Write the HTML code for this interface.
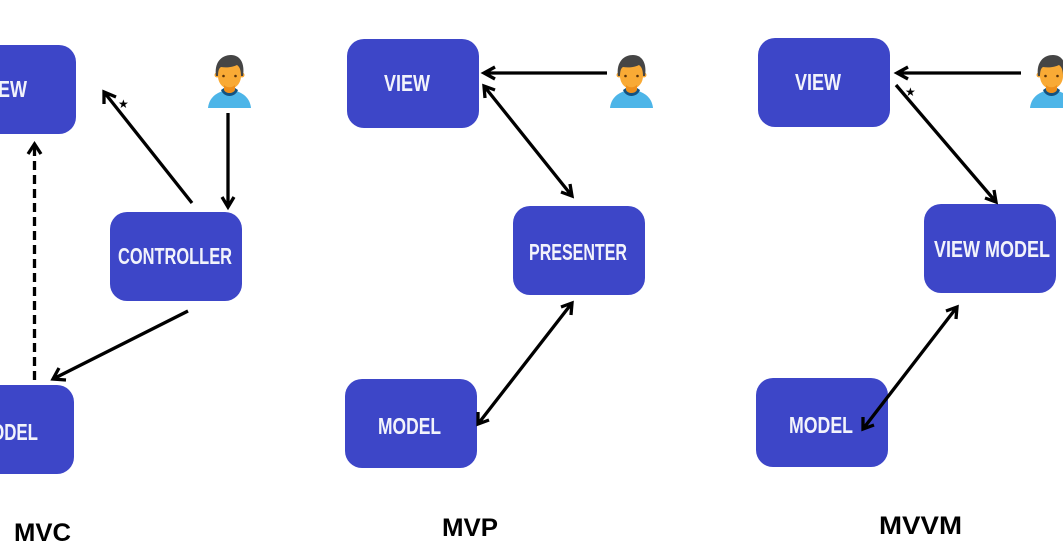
<!DOCTYPE html>
<html>
<head>
<meta charset="utf-8">
<style>
html,body{margin:0;padding:0;background:#fff;width:1063px;height:558px;overflow:hidden}
svg{display:block}
.b{fill:#3d46c8}
.t{font-family:"Liberation Sans",sans-serif;font-weight:bold;font-size:23px;fill:#f2f3fb}
.h{font-family:"Liberation Sans",sans-serif;font-weight:bold;font-size:25px;fill:#000}
.l{stroke:#000;stroke-width:3.3;fill:none}
.s{font-family:"DejaVu Sans",sans-serif;font-size:12px;fill:#000}
</style>
</head>
<body>
<svg width="1063" height="558" viewBox="0 0 1063 558" xmlns="http://www.w3.org/2000/svg">
<defs>
<g id="p">
<path d="M0 53 C1 43 8 38 15 36 L28 36 C35 38 42 43 43 53 Z" fill="#4db5e8"/>
<path d="M13 35 C16 43 27 43 30 35 L27 33 L16 33 Z" fill="#14527f"/>
<circle cx="9" cy="20" r="2.500" fill="#f7a733"/>
<circle cx="34" cy="20" r="2.500" fill="#f7a733"/>
<path d="M8 21 C6 8 13 0 23 0 C32 0 37 8 35 21 Z" fill="#454545"/>
<path d="M10 21 C10 16 11 13 13 12 C19 13 25 12 29 10 C32 12 33 16 33 21 C33 29 27 34 21.500 34 C16 34 10 29 10 21 Z" fill="#f9aa35"/>
<path d="M16 30 C19 33 24 33 27 30 V35 C25 39 18 39 16 35 Z" fill="#ee8f1b"/>
<circle cx="15.500" cy="21" r="1.300" fill="#5a3208"/>
<circle cx="27.500" cy="21" r="1.300" fill="#5a3208"/>
</g>
</defs>

<!-- MVC -->
<rect class="b" x="-56" y="45" width="132" height="89" rx="17"/>
<rect class="b" x="110" y="212" width="132" height="89" rx="17"/>
<rect class="b" x="-58" y="385" width="132" height="89" rx="17"/>
<text class="t" x="-19" y="97" textLength="46" lengthAdjust="spacingAndGlyphs">VIEW</text>
<text class="t" x="118" y="264" textLength="114" lengthAdjust="spacingAndGlyphs">CONTROLLER</text>
<text class="t" x="-23" y="440" textLength="61" lengthAdjust="spacingAndGlyphs">MODEL</text>
<use href="#p" x="208" y="55"/>
<path class="l" d="M228 113 V207 M222 197 L228 207 L234 197"/>
<path class="l" d="M192 203 L104 92 M104 104 L104 92 L116 97"/>
<text class="s" x="118" y="108">★</text>
<path class="l" stroke-dasharray="9 5" d="M34.500 380 V147"/>
<path class="l" d="M28 154 L34.500 144 L41 154"/>
<path class="l" d="M188 311 L53 379 M59 368 L53 379 L66 380"/>
<text class="h" x="14" y="541" textLength="57" lengthAdjust="spacingAndGlyphs">MVC</text>

<!-- MVP -->
<rect class="b" x="347" y="39" width="132" height="89" rx="17"/>
<rect class="b" x="513" y="206" width="132" height="89" rx="17"/>
<rect class="b" x="345" y="379" width="132" height="89" rx="17"/>
<text class="t" x="384" y="91" textLength="46" lengthAdjust="spacingAndGlyphs">VIEW</text>
<text class="t" x="529" y="260" textLength="98" lengthAdjust="spacingAndGlyphs">PRESENTER</text>
<text class="t" x="378" y="434" textLength="63" lengthAdjust="spacingAndGlyphs">MODEL</text>
<use href="#p" x="610" y="55"/>
<path class="l" d="M607 73 H484 M495 67 L484 73 L495 79"/>
<path class="l" d="M484 86 L572 196 M485 98 L484 86 L495 90 M570 184 L572 196 L561 192"/>
<path class="l" d="M572 303 L478 424 M561 307 L572 303 L571 315 M478 412 L478 424 L489 420"/>
<text class="h" x="442" y="536" textLength="56" lengthAdjust="spacingAndGlyphs">MVP</text>

<!-- MVVM -->
<rect class="b" x="758" y="38" width="132" height="89" rx="17"/>
<rect class="b" x="924" y="204" width="132" height="89" rx="17"/>
<rect class="b" x="756" y="378" width="132" height="89" rx="17"/>
<text class="t" x="795" y="90" textLength="46" lengthAdjust="spacingAndGlyphs">VIEW</text>
<text class="t" x="934" y="257" textLength="116" lengthAdjust="spacingAndGlyphs">VIEW MODEL</text>
<text class="t" x="789" y="433" textLength="64" lengthAdjust="spacingAndGlyphs">MODEL</text>
<use href="#p" x="1030" y="55"/>
<path class="l" d="M1021 73 H897 M908 67 L897 73 L908 79"/>
<path class="l" d="M896 85 L996 202 M994 190 L996 202 L985 198"/>
<text class="s" x="905" y="96">★</text>
<path class="l" d="M957 307 L863 429 M946 311 L957 307 L956 319 M863 417 L863 429 L874 425"/>
<text class="h" x="879" y="534" textLength="83" lengthAdjust="spacingAndGlyphs">MVVM</text>
</svg>
</body>
</html>
